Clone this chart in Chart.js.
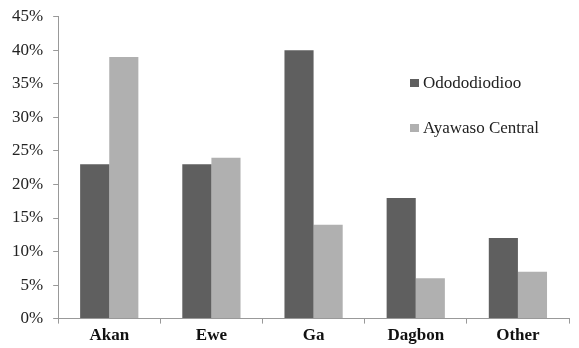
<!DOCTYPE html>
<html>
<head>
<meta charset="utf-8">
<script src="https://cdn.jsdelivr.net/npm/chart.js@4"></script>
<style>
  body { margin: 0; background: #fff; }
  #wrap { position: relative; width: 579px; height: 348px; }
  #legend { position: absolute; left: 410px; top: 73px; font-family: "Liberation Serif", serif; font-size: 17px; color: #222; }
  #legend div { height: 45px; display: flex; align-items: flex-start; }
  #legend span.box { display: inline-block; width: 9px; height: 8px; margin: 6px 4px 0 0; }
</style>
</head>
<body>
<div id="wrap">
  <canvas id="chart" width="579" height="348"></canvas>
  <div id="legend"></div>
</div>
<script>
const categories = ['Akan', 'Ewe', 'Ga', 'Dagbon', 'Other'];
const odododiodioo = [23, 23, 40, 18, 12];
const ayawasoCentral = [39, 24, 14, 6, 7];
const seriesNames = ['Odododiodioo', 'Ayawaso Central'];
const seriesColors = ['#5f5f5f', '#b0b0b0'];

const ctx = document.getElementById('chart').getContext('2d');

new Chart(ctx, {
    type: 'bar',
    data: {
        labels: categories,
        datasets: [
            {
                label: seriesNames[0],
                data: odododiodioo,
                backgroundColor: seriesColors[0],
                barPercentage: 1,
                categoryPercentage: 0.57
            },
            {
                label: seriesNames[1],
                data: ayawasoCentral,
                backgroundColor: seriesColors[1],
                barPercentage: 1,
                categoryPercentage: 0.57
            }
        ]
    },
    options: {
        responsive: false,
        animation: false,
        layout: { padding: { top: 0, right: 10, left: 2, bottom: 0 } },
        plugins: {
            legend: { display: false },
            tooltip: { enabled: false }
        },
        scales: {
            x: {
                grid: { drawOnChartArea: false, offset: true, color: '#999', tickLength: 5 },
                border: { color: '#999' },
                ticks: {
                    color: '#111',
                    font: { family: 'Liberation Serif', size: 17, weight: 'bold' },
                    padding: 2
                }
            },
            y: {
                min: 0,
                max: 45,
                grid: { drawOnChartArea: false, color: '#999', tickLength: 5 },
                border: { color: '#999' },
                ticks: {
                    stepSize: 5,
                    color: '#222',
                    font: { family: 'Liberation Serif', size: 17, lineHeight: 0.8 },
                    padding: 10,
                    callback: v => v + '%'
                }
            }
        }
    }
});

const legend = document.getElementById('legend');
seriesNames.forEach((name, i) => {
    const row = document.createElement('div');
    row.innerHTML = '<span class="box" style="background:' + seriesColors[i] + '"></span>' + name;
    legend.appendChild(row);
});
</script>
</body>
</html>
